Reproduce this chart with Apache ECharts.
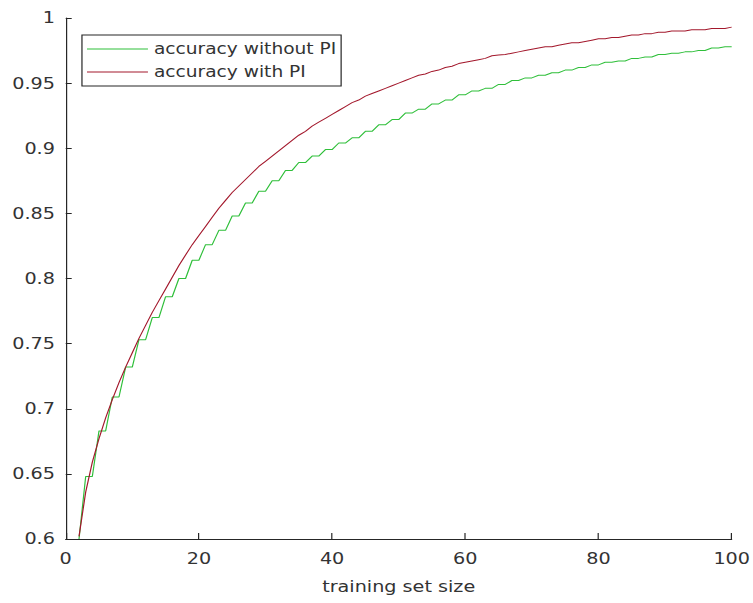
<!DOCTYPE html>
<html>
<head>
<meta charset="utf-8">
<script src="https://cdn.jsdelivr.net/npm/echarts@6/dist/echarts.min.js"></script>
<style>
html,body{margin:0;padding:0;background:#fff;overflow:hidden;}
#wrap{width:753px;height:603px;overflow:hidden;position:relative;}
#chart{width:627.5px;height:603px;transform:scaleX(1.2);transform-origin:0 0;}
</style>
</head>
<body>
<div id="wrap"><div id="chart"></div></div>
<script>
// training set sizes
var sizes = [];
for (var s = 2; s <= 100; s++) sizes.push(s);

var withoutPI = [
0.600,
0.648,0.648, 0.683,0.683, 0.709,0.709, 0.732,0.732, 0.753,0.753,
0.770,0.770, 0.786,0.786, 0.800,0.800, 0.814,0.814, 0.826,0.826,
0.837,0.837, 0.848,0.848, 0.858,0.858, 0.867,0.867, 0.875,0.875,
0.883,0.883, 0.889,0.889, 0.894,0.894, 0.899,0.899, 0.904,0.904,
0.908,0.908, 0.913,0.913, 0.918,0.918, 0.922,0.922, 0.927,0.927,
0.930,0.930, 0.934,0.934, 0.937,0.937, 0.941,0.941, 0.944,0.944,
0.946,0.946, 0.949,0.949, 0.952,0.952, 0.954,0.954, 0.956,0.956,
0.958,0.958, 0.960,0.960, 0.962,0.962, 0.964,0.964, 0.966,0.966,
0.967,0.967, 0.969,0.969, 0.970,0.970, 0.972,0.972, 0.973,0.973,
0.974,0.974, 0.975,0.975, 0.977,0.977, 0.978,0.978
];

var withPI = [
0.602,0.636,0.659,0.677,0.693,0.707,0.720,0.732,0.743,
0.754,0.764,0.774,0.783,0.792,0.801,0.810,0.818,0.826,0.833,
0.840,0.847,0.854,0.860,0.866,0.871,0.876,0.881,0.886,0.890,
0.894,0.898,0.902,0.906,0.910,0.913,0.917,0.920,0.923,0.926,
0.929,0.932,0.935,0.937,0.940,0.942,0.944,0.946,0.948,0.950,
0.952,0.954,0.956,0.957,0.959,0.960,0.962,0.963,0.965,0.966,
0.967,0.968,0.969,0.971,0.9715,0.972,0.973,0.974,0.975,0.976,
0.977,0.978,0.978,0.979,0.980,0.981,0.981,0.982,0.983,0.984,
0.984,0.985,0.985,0.986,0.987,0.987,0.988,0.988,0.989,0.989,
0.990,0.990,0.990,0.991,0.991,0.991,0.992,0.992,0.992,0.993
];

var seriesNames = ['accuracy without PI', 'accuracy with PI'];
var seriesColors = ['#2fbf3a', '#a3182c'];

function pairs(xs, ys) {
  var out = [];
  for (var i = 0; i < xs.length; i++) out.push([xs[i], ys[i]]);
  return out;
}

var axisColor = '#262626';
var textColor = '#333333';
var font = 'DejaVu Sans';

var chart = echarts.init(document.getElementById('chart'), null, {renderer: 'svg'});
chart.setOption({
  animation: false,
  backgroundColor: '#ffffff',
  grid: {left: 54.75, right: 17.5, top: 18, bottom: 64, containLabel: false},
  legend: {
    orient: 'vertical',
    left: 68.3, top: 35,
    data: seriesNames,
    icon: 'rect',
    backgroundColor: '#ffffff',
    borderColor: axisColor, borderWidth: 1,
    padding: [5, 4, 5, 4.2],
    itemWidth: 50.8, itemHeight: 1.2, itemGap: 5,
    textStyle: {fontFamily: font, fontSize: 15.5, color: textColor, lineHeight: 18}
  },
  xAxis: {
    type: 'value', min: 0, max: 100, interval: 20,
    axisLine: {show: true, onZero: false, lineStyle: {color: axisColor, width: 1}},
    axisTick: {show: true, inside: true, length: 6, lineStyle: {color: axisColor}},
    axisLabel: {fontFamily: font, fontSize: 16, color: textColor, margin: 12},
    splitLine: {show: false},
    name: 'training set size', nameLocation: 'middle', nameGap: 40,
    nameTextStyle: {fontFamily: font, fontSize: 16, color: textColor}
  },
  yAxis: {
    type: 'value', min: 0.6, max: 1, interval: 0.05,
    axisLine: {show: true, onZero: false, lineStyle: {color: axisColor, width: 1}},
    axisTick: {show: true, inside: true, length: 5, lineStyle: {color: axisColor}},
    axisLabel: {fontFamily: font, fontSize: 16, color: textColor, margin: 9},
    splitLine: {show: false}
  },
  series: [
    {name: seriesNames[0], type: 'line', data: pairs(sizes, withoutPI), symbol: 'none',
     lineStyle: {color: seriesColors[0], width: 1}, itemStyle: {color: seriesColors[0]}},
    {name: seriesNames[1], type: 'line', data: pairs(sizes, withPI), symbol: 'none',
     lineStyle: {color: seriesColors[1], width: 1}, itemStyle: {color: seriesColors[1]}}
  ]
});
</script>
</body>
</html>
